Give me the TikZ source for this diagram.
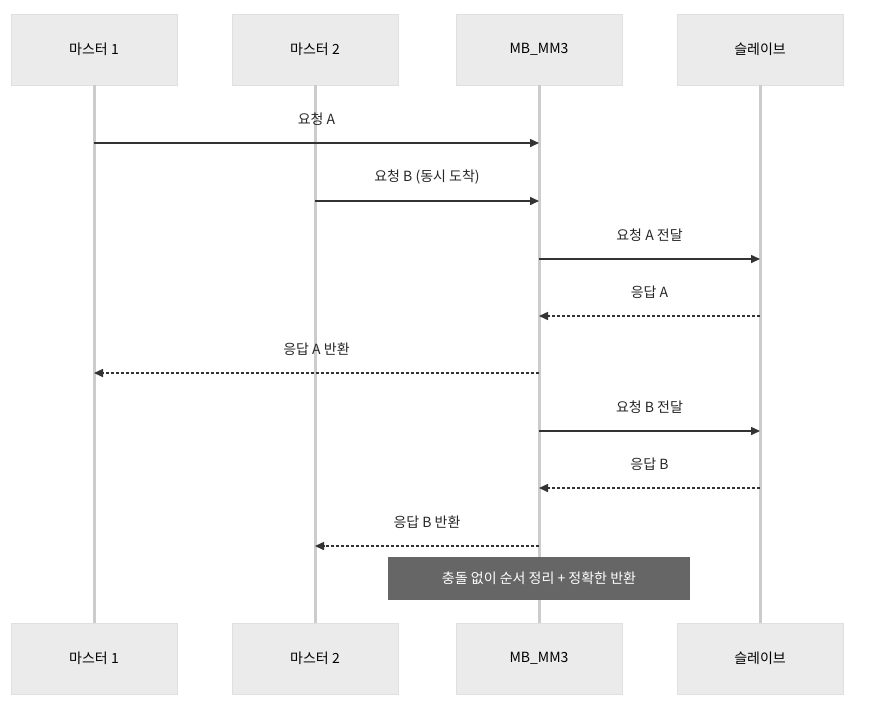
\documentclass[tikz,border=0pt]{standalone}
\usepackage{fontspec}
\setmainfont{Noto Sans CJK KR}
\usetikzlibrary{arrows.meta,positioning}

\tikzset{
  actor/.style={draw=black!12, fill=black!8, minimum width=166pt, minimum height=71pt, font=\fontsize{14}{16}\selectfont},
  life/.style={draw=black!20, line width=3pt},
  msg/.style={draw=black!80, line width=1.5pt, -{Triangle[length=9pt,width=8pt]}},
  ret/.style={msg, dash pattern=on 3pt off 2pt},
  lbl/.style={font=\fontsize{14}{16}\selectfont, text=black!85}
}

\begin{document}
\begin{tikzpicture}[x=1pt,y=-1pt]
  \useasboundingbox (0,0) rectangle (874,702);

  \node[actor] (m1t) at (94,49.5) {마스터 1};
  \node[actor] (m2t) at (315,49.5) {마스터 2};
  \node[actor] (mbt) at (539,49.5) {MB\_MM3};
  \node[actor] (st) at (760,49.5) {슬레이브};
  \node[actor] (m1b) at (94,658.5) {마스터 1};
  \node[actor] (m2b) at (315,658.5) {마스터 2};
  \node[actor] (mbb) at (539,658.5) {MB\_MM3};
  \node[actor] (sb) at (760,658.5) {슬레이브};

  \draw[life] (m1t) -- (m1b);
  \draw[life] (m2t) -- (m2b);
  \draw[life] (mbt) -- (mbb);
  \draw[life] (st) -- (sb);

  % messages
  \coordinate (a1) at (94,143);  \coordinate (a2) at (539,143);
  \coordinate (b1) at (315,201); \coordinate (b2) at (539,201);
  \coordinate (c1) at (539,259); \coordinate (c2) at (760,259);
  \coordinate (d1) at (760,316); \coordinate (d2) at (539,316);
  \coordinate (e1) at (539,373); \coordinate (e2) at (94,373);
  \coordinate (f1) at (539,431); \coordinate (f2) at (760,431);
  \coordinate (g1) at (760,488); \coordinate (g2) at (539,488);
  \coordinate (h1) at (539,546); \coordinate (h2) at (315,546);

  \draw[msg] (a1) -- node[lbl, above=13pt] {요청 A} (a2);
  \draw[msg] (b1) -- node[lbl, above=13pt] {요청 B (동시 도착)} (b2);
  \draw[msg] (c1) -- node[lbl, above=13pt] {요청 A 전달} (c2);
  \draw[ret] (d1) -- node[lbl, above=13pt] {응답 A} (d2);
  \draw[ret] (e1) -- node[lbl, above=13pt] {응답 A 반환} (e2);
  \draw[msg] (f1) -- node[lbl, above=13pt] {요청 B 전달} (f2);
  \draw[ret] (g1) -- node[lbl, above=13pt] {응답 B} (g2);
  \draw[ret] (h1) -- node[lbl, above=13pt] {응답 B 반환} (h2);

  \node[fill=black!60, text=white, minimum width=302pt, minimum height=43pt,
        font=\fontsize{14}{16}\selectfont] (note) at (539,578.5) {충돌 없이 순서 정리 + 정확한 반환};
\end{tikzpicture}
\end{document}
